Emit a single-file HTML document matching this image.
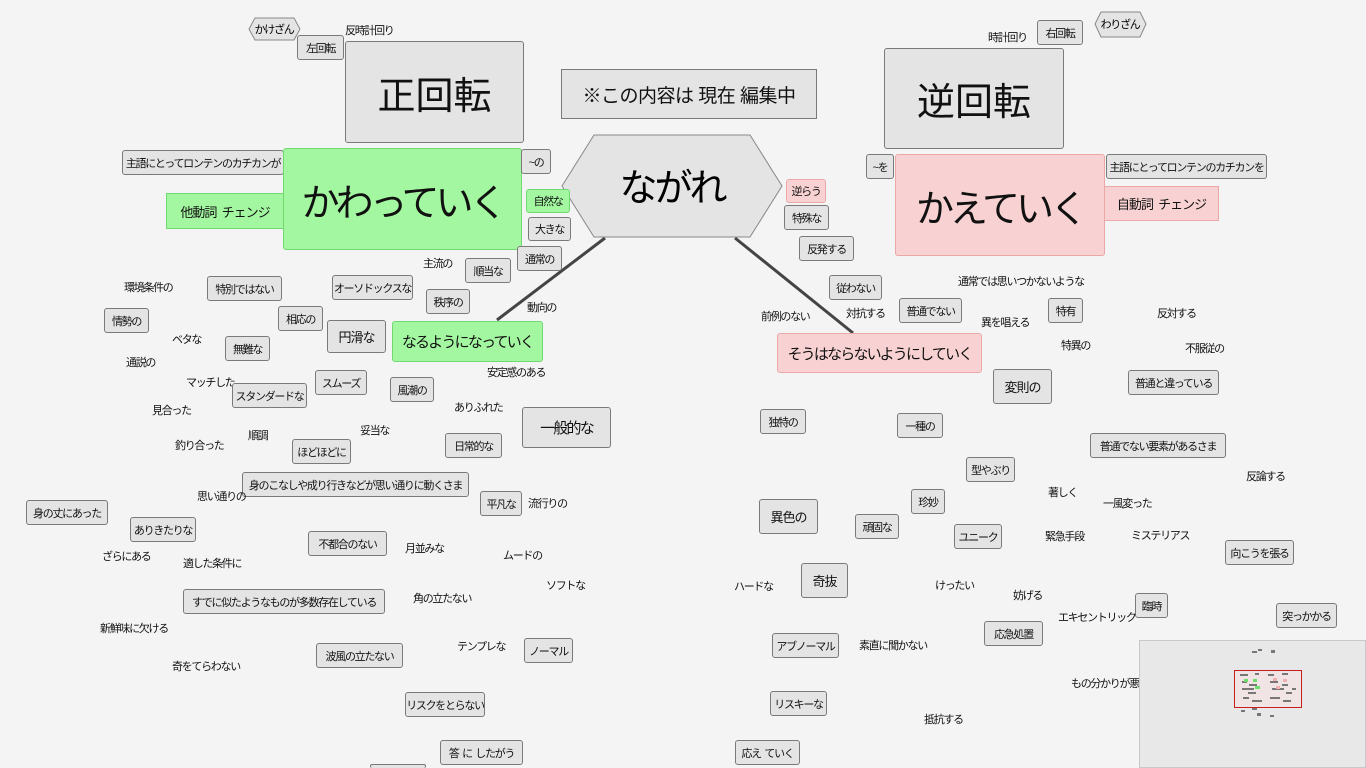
<!DOCTYPE html>
<html><head><meta charset="utf-8"><style>
html,body{margin:0;width:1366px;height:768px;overflow:hidden}
body{background:#f4f4f4;position:relative;font-family:"Liberation Sans","Noto Sans CJK JP",sans-serif;color:#111}
.b{position:absolute;box-sizing:border-box;background:#e4e4e4;border:1px solid #7a7a7a;border-radius:3px;display:flex;align-items:center;justify-content:center;font-size:11px;letter-spacing:-1.3px;white-space:nowrap;overflow:hidden}
.g{background:#a3f7a0;border-color:#72d872}
.p{background:#f8d2d2;border-color:#eba8a8}
.t{position:absolute;font-size:11px;letter-spacing:-1.3px;white-space:nowrap;line-height:14px}
.L{font-size:38px;letter-spacing:-4px}
.M{font-size:15px;letter-spacing:-1.8px}
.S{font-size:13px;letter-spacing:-1px}
</style></head><body>
<svg width="1366" height="768" style="position:absolute;left:0;top:0">
<line x1="605" y1="238" x2="497" y2="320" stroke="#444" stroke-width="3"/>
<line x1="735" y1="238" x2="853" y2="333" stroke="#444" stroke-width="3"/>
<polygon points="594,135 750,135 782,186 750,237 594,237 562,186" fill="#e4e4e4" stroke="#888"/>
<polygon points="255,18 294,18 300,29 294,40 255,40 249,29" fill="#e4e4e4" stroke="#888"/>
<polygon points="1101,12 1140,12 1146,24 1140,37 1101,37 1095,24" fill="#e4e4e4" stroke="#888"/>
<text x="672" y="201" font-size="38" text-anchor="middle" letter-spacing="-3" font-family="Liberation Sans,Noto Sans CJK JP,sans-serif">ながれ</text>
<text x="274" y="33" font-size="11" text-anchor="middle" letter-spacing="-1.3" font-family="Liberation Sans,Noto Sans CJK JP,sans-serif">かけざん</text>
<text x="1120" y="28" font-size="11" text-anchor="middle" letter-spacing="-1.3" font-family="Liberation Sans,Noto Sans CJK JP,sans-serif">わりざん</text>
</svg>

<div class="b" style="left:297px;top:35px;width:47px;height:25px">左回転</div>
<div class="t" style="left:345px;top:24px">反時計回り</div>
<div class="b L" style="left:345px;top:41px;width:179px;height:102px;letter-spacing:0">正回転</div>
<div class="b" style="left:561px;top:69px;width:256px;height:50px;border-radius:0;font-size:19px;letter-spacing:-0.5px">※この内容は 現在 編集中</div>
<div class="b L" style="left:884px;top:48px;width:180px;height:101px;letter-spacing:0">逆回転</div>
<div class="t" style="left:988px;top:31px">時計回り</div>
<div class="b" style="left:1037px;top:20px;width:46px;height:25px">右回転</div>

<div class="b" style="left:122px;top:150px;width:162px;height:25px">主語にとってロンテンのカチカンが</div>
<div class="b g S" style="left:166px;top:193px;width:118px;height:36px;border-radius:0">他動詞&nbsp; チェンジ</div>
<div class="b g L" style="left:283px;top:148px;width:239px;height:102px">かわっていく</div>
<div class="b" style="left:521px;top:149px;width:30px;height:25px">~の</div>
<div class="b g" style="left:526px;top:189px;width:44px;height:24px">自然な</div>
<div class="b" style="left:528px;top:217px;width:43px;height:24px">大きな</div>
<div class="b" style="left:517px;top:246px;width:45px;height:25px">通常の</div>

<div class="b" style="left:866px;top:154px;width:28px;height:25px">~を</div>
<div class="b p L" style="left:895px;top:154px;width:210px;height:102px">かえていく</div>
<div class="b" style="left:1106px;top:154px;width:161px;height:25px">主語にとってロンテンのカチカンを</div>
<div class="b p S" style="left:1104px;top:186px;width:115px;height:35px;border-radius:0">自動詞&nbsp; チェンジ</div>
<div class="b p" style="left:786px;top:179px;width:40px;height:24px">逆らう</div>
<div class="b" style="left:784px;top:205px;width:45px;height:25px">特殊な</div>
<div class="b" style="left:799px;top:236px;width:55px;height:25px">反発する</div>

<div class="t" style="left:423px;top:257px">主流の</div>
<div class="b" style="left:465px;top:258px;width:46px;height:25px">順当な</div>
<div class="t" style="left:124px;top:281px">環境条件の</div>
<div class="b" style="left:207px;top:276px;width:75px;height:25px">特別ではない</div>
<div class="b" style="left:332px;top:275px;width:81px;height:25px">オーソドックスな</div>
<div class="b" style="left:426px;top:289px;width:44px;height:25px">秩序の</div>
<div class="t" style="left:527px;top:301px">動向の</div>
<div class="b" style="left:104px;top:308px;width:45px;height:25px">情勢の</div>
<div class="b" style="left:278px;top:306px;width:45px;height:25px">相応の</div>
<div class="b S" style="left:327px;top:320px;width:59px;height:33px">円滑な</div>
<div class="b g M" style="left:392px;top:321px;width:151px;height:41px">なるようになっていく</div>
<div class="t" style="left:172px;top:333px">ベタな</div>
<div class="b" style="left:225px;top:336px;width:45px;height:25px">無難な</div>
<div class="t" style="left:126px;top:356px">通説の</div>
<div class="t" style="left:186px;top:376px">マッチした</div>
<div class="b" style="left:232px;top:383px;width:75px;height:25px">スタンダードな</div>
<div class="b" style="left:315px;top:370px;width:52px;height:25px">スムーズ</div>
<div class="b" style="left:390px;top:377px;width:44px;height:25px">風潮の</div>
<div class="t" style="left:487px;top:366px">安定感のある</div>
<div class="t" style="left:152px;top:404px">見合った</div>
<div class="t" style="left:454px;top:401px">ありふれた</div>
<div class="b M" style="left:522px;top:407px;width:89px;height:41px">一般的な</div>
<div class="t" style="left:175px;top:439px">釣り合った</div>
<div class="t" style="left:248px;top:429px">順調</div>
<div class="t" style="left:360px;top:424px">妥当な</div>
<div class="b" style="left:292px;top:439px;width:59px;height:25px">ほどほどに</div>
<div class="b" style="left:445px;top:433px;width:57px;height:25px">日常的な</div>
<div class="b" style="left:242px;top:472px;width:227px;height:25px">身のこなしや成り行きなどが思い通りに動くさま</div>
<div class="t" style="left:197px;top:490px">思い通りの</div>
<div class="b" style="left:480px;top:491px;width:42px;height:25px">平凡な</div>
<div class="t" style="left:528px;top:497px">流行りの</div>
<div class="b" style="left:26px;top:500px;width:82px;height:25px">身の丈にあった</div>
<div class="b" style="left:130px;top:517px;width:66px;height:25px">ありきたりな</div>
<div class="b" style="left:308px;top:531px;width:79px;height:25px">不都合のない</div>
<div class="t" style="left:405px;top:542px">月並みな</div>
<div class="t" style="left:503px;top:549px">ムードの</div>
<div class="t" style="left:102px;top:550px">ざらにある</div>
<div class="t" style="left:183px;top:557px">適した条件に</div>
<div class="b" style="left:183px;top:589px;width:202px;height:25px">すでに似たようなものが多数存在している</div>
<div class="t" style="left:413px;top:592px">角の立たない</div>
<div class="t" style="left:546px;top:579px">ソフトな</div>
<div class="t" style="left:100px;top:622px">新鮮味に欠ける</div>
<div class="t" style="left:457px;top:640px">テンプレな</div>
<div class="b" style="left:524px;top:638px;width:49px;height:25px">ノーマル</div>
<div class="b" style="left:316px;top:643px;width:87px;height:25px">波風の立たない</div>
<div class="t" style="left:172px;top:660px">奇をてらわない</div>
<div class="b" style="left:405px;top:692px;width:80px;height:25px">リスクをとらない</div>
<div class="b" style="left:440px;top:740px;width:83px;height:25px">答&nbsp; に&nbsp; したがう</div>
<div class="b" style="left:370px;top:764px;width:56px;height:4px;border-bottom:none"></div>

<div class="t" style="left:958px;top:275px">通常では思いつかないような</div>
<div class="b" style="left:829px;top:275px;width:53px;height:25px">従わない</div>
<div class="t" style="left:846px;top:307px">対抗する</div>
<div class="b" style="left:899px;top:298px;width:63px;height:25px">普通でない</div>
<div class="t" style="left:981px;top:316px">異を唱える</div>
<div class="b" style="left:1048px;top:298px;width:35px;height:25px">特有</div>
<div class="t" style="left:1157px;top:307px">反対する</div>
<div class="t" style="left:761px;top:310px">前例のない</div>
<div class="b p M" style="left:777px;top:333px;width:205px;height:40px">そうはならないようにしていく</div>
<div class="t" style="left:1061px;top:339px">特異の</div>
<div class="t" style="left:1185px;top:342px">不服従の</div>
<div class="b S" style="left:993px;top:369px;width:59px;height:35px">変則の</div>
<div class="b" style="left:1128px;top:370px;width:91px;height:25px">普通と違っている</div>
<div class="b" style="left:760px;top:409px;width:46px;height:25px">独特の</div>
<div class="b" style="left:897px;top:413px;width:46px;height:25px">一種の</div>
<div class="b" style="left:1090px;top:433px;width:136px;height:25px">普通でない要素があるさま</div>
<div class="b" style="left:966px;top:457px;width:49px;height:25px">型やぶり</div>
<div class="t" style="left:1246px;top:470px">反論する</div>
<div class="b" style="left:911px;top:489px;width:34px;height:25px">珍妙</div>
<div class="t" style="left:1048px;top:486px">著しく</div>
<div class="t" style="left:1103px;top:497px">一風変った</div>
<div class="b S" style="left:759px;top:499px;width:59px;height:35px">異色の</div>
<div class="b" style="left:855px;top:514px;width:44px;height:25px">頑固な</div>
<div class="b" style="left:954px;top:524px;width:48px;height:25px">ユニーク</div>
<div class="t" style="left:1045px;top:530px">緊急手段</div>
<div class="t" style="left:1131px;top:529px">ミステリアス</div>
<div class="b" style="left:1225px;top:540px;width:69px;height:25px">向こうを張る</div>
<div class="t" style="left:734px;top:580px">ハードな</div>
<div class="b S" style="left:801px;top:563px;width:47px;height:35px">奇抜</div>
<div class="t" style="left:935px;top:579px">けったい</div>
<div class="t" style="left:1013px;top:589px">妨げる</div>
<div class="b" style="left:1135px;top:593px;width:33px;height:25px">臨時</div>
<div class="b" style="left:1276px;top:603px;width:61px;height:25px">突っかかる</div>
<div class="t" style="left:1058px;top:611px">エキセントリック</div>
<div class="b" style="left:772px;top:633px;width:67px;height:25px">アブノーマル</div>
<div class="t" style="left:859px;top:639px">素直に聞かない</div>
<div class="b" style="left:984px;top:621px;width:59px;height:25px">応急処置</div>
<div class="t" style="left:1071px;top:677px">もの分かりが悪い</div>
<div class="b" style="left:770px;top:691px;width:57px;height:25px">リスキーな</div>
<div class="t" style="left:924px;top:713px">抵抗する</div>
<div class="b" style="left:735px;top:740px;width:65px;height:25px">応え&nbsp; ていく</div>

<div style="position:absolute;left:1139px;top:640px;width:227px;height:128px;background:#e8e8e8;border:1px solid #c8c8c8;box-sizing:border-box"></div>
<div style="position:absolute;left:1234px;top:670px;width:68px;height:38px;background:#f0e4e4;border:1px solid #c81e1e;box-sizing:border-box"></div>
<svg width="1366" height="768" style="position:absolute;left:0;top:0">
<g fill="#777">
<rect x="1252" y="651" width="5" height="2"/><rect x="1258" y="649" width="4" height="2"/><rect x="1271" y="650" width="4" height="3"/>
<rect x="1240" y="674" width="8" height="2"/><rect x="1255" y="673" width="4" height="2"/><rect x="1268" y="674" width="6" height="2"/><rect x="1282" y="673" width="6" height="2"/>
<rect x="1242" y="681" width="5" height="2"/><rect x="1249" y="684" width="8" height="2"/><rect x="1242" y="688" width="12" height="2"/><rect x="1248" y="692" width="8" height="2"/><rect x="1243" y="697" width="6" height="2"/><rect x="1252" y="700" width="10" height="2"/>
<rect x="1270" y="681" width="8" height="2"/><rect x="1282" y="684" width="6" height="2"/><rect x="1272" y="688" width="12" height="2"/><rect x="1286" y="692" width="6" height="2"/><rect x="1270" y="697" width="10" height="2"/><rect x="1283" y="700" width="8" height="2"/><rect x="1292" y="688" width="4" height="2"/>
<rect x="1252" y="708" width="5" height="2"/><rect x="1241" y="710" width="4" height="2"/><rect x="1257" y="713" width="4" height="3"/><rect x="1270" y="715" width="4" height="2"/>
</g>
<g fill="#6dde6d"><rect x="1244" y="679" width="4" height="3"/><rect x="1253" y="679" width="4" height="3"/><rect x="1255" y="686" width="5" height="3"/></g>
<g fill="#f0b0b0"><rect x="1273" y="678" width="4" height="3"/><rect x="1283" y="679" width="4" height="3"/><rect x="1276" y="686" width="4" height="3"/></g>
</svg>
</body></html>
